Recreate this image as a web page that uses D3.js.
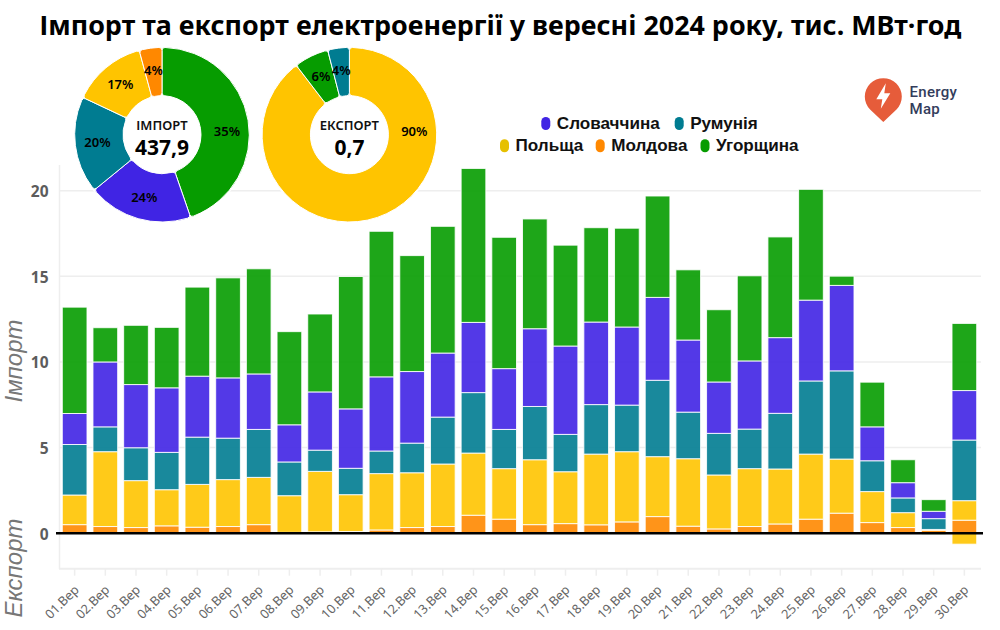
<!DOCTYPE html>
<html lang="uk">
<head>
<meta charset="utf-8">
<script src="https://cdn.jsdelivr.net/npm/d3@7"></script>
<style>
html,body{margin:0;padding:0;background:#fff}
svg{display:block}
</style>
</head>
<body>
<svg id="c" width="1000" height="630"></svg>
<script>
const titleText = "Імпорт та експорт електроенергії у вересні 2024 року, тис. МВт·год";
const days = ["01","02","03","04","05","06","07","08","09","10","11","12","13","14","15","16","17","18","19","20","21","22","23","24","25","26","27","28","29","30"].map(d => d + ".Вер");
const seriesNames = ["Молдова","Польща","Румунія","Словаччина","Угорщина"];
const moldova  = [.5,.39,.33,.43,.35,.39,.5,.05,.08,.1,.19,.33,.39,1.05,.82,.5,.56,.49,.66,.97,.41,.25,.39,.54,.82,1.17,.62,.33,.17,.76];
const poland   = [1.73,4.37,2.74,2.11,2.5,2.74,2.76,2.14,3.53,2.15,3.29,3.2,3.65,3.63,2.95,3.79,3.03,4.13,4.1,3.5,3.94,3.15,3.38,3.21,3.8,3.16,1.81,.87,.05,1.14];
const romania  = [2.95,1.45,1.92,2.18,2.76,2.42,2.8,1.97,1.24,1.54,1.32,1.73,2.74,3.53,2.29,3.11,2.18,2.89,2.72,4.46,2.72,2.43,2.31,3.25,4.27,5.15,1.8,.86,.63,3.54];
const slovakia = [1.81,3.79,3.69,3.77,3.56,3.52,3.24,2.17,3.4,3.47,4.33,4.18,3.74,4.1,3.55,4.54,5.16,4.82,4.56,4.84,4.21,3,3.98,4.42,4.72,4.99,1.98,.89,.43,2.89];
const hungary  = [6.21,2,3.46,3.53,5.2,5.84,6.14,5.44,4.55,7.73,8.5,6.77,7.4,8.99,7.67,6.41,5.89,5.51,5.77,5.92,4.1,4.22,4.97,5.88,6.47,.54,2.61,1.34,.68,3.92];
const exportPoland  = [0,0,0,0,0,0,0,0,0,0,0,0,0,0,0,0,0,0,0,0,0,0,0,0,0,0,0,0,0,-.64];
const exportHungary = [0,0,0,0,0,0,0,0,0,0,0,0,0,0,0,0,0,0,0,0,0,0,0,0,0,0,0,0,-.1,0];
const yTicks = [0,5,10,15,20];
const importSliceNames = ["Угорщина","Словаччина","Румунія","Польща","Молдова"];
const importSliceSizes = [44.7,19.4,17.9,13.8,4.2];
const importSliceLabels = ["35%","24%","20%","17%","4%"];
const exportSliceNames = ["Польща","Угорщина","Румунія"];
const exportSliceSizes = [89.6,6.4,4];
const exportSliceLabels = ["90%","6%","4%"];
const legendRow1 = ["Словаччина","Румунія"];
const legendRow2 = ["Польща","Молдова","Угорщина"];

const colors = {"Угорщина":"#069C00","Словаччина":"#4024E4","Румунія":"#007C91","Польща":"#FFC400","Молдова":"#FF8800"};
const FONT = "'Noto Sans', sans-serif";
const svg = d3.select("#c");

svg.append("text").attr("x",500.5).attr("y",34.5).attr("text-anchor","middle")
  .attr("font-family",FONT).attr("font-weight",700).attr("font-size",26.85).attr("fill","#000").text(titleText);

const x = d3.scaleBand().domain(days).range([59.3,979.7]).paddingInner(.195).paddingOuter(.0975);
const y = d3.scaleLinear().domain([0,20]).range([533.2,190.7]);

// grid
svg.append("g").selectAll("line").data(yTicks.slice(1)).join("line")
  .attr("x1",59).attr("x2",981).attr("y1",d=>y(d)).attr("y2",d=>y(d))
  .attr("stroke","#eeeeee").attr("stroke-width",1.5);

// axes
const axX = svg.append("g").attr("transform","translate(0,568.7)").call(d3.axisBottom(x).tickSize(7).tickSizeOuter(0));
axX.select(".domain").attr("stroke","#eeeeee").attr("stroke-width",2).attr("d","M59,0H981");
axX.selectAll(".tick line").attr("stroke","#eeeeee").attr("stroke-width",1.5);
axX.selectAll(".tick text").attr("font-family",FONT).attr("font-size",12.8).attr("fill","#666")
  .attr("text-anchor","end").attr("dy",0).attr("y",0)
  .attr("transform","translate(5,22) rotate(-45)");

const axY = svg.append("g").attr("transform","translate(59.5,0)").call(d3.axisLeft(y).tickValues(yTicks).tickFormat(d3.format("d")).tickSize(0).tickPadding(11));
axY.select(".domain").attr("stroke","#eeeeee").attr("stroke-width",1.5).attr("d","M0,165V569");
axY.selectAll(".tick text").attr("font-family",FONT).attr("font-weight",700).attr("font-size",15.5).attr("fill","#5c5c5c").attr("y",1);

// bars
const rows = days.map((d,i)=>({day:d,"Молдова":moldova[i],"Польща":poland[i],"Румунія":romania[i],"Словаччина":slovakia[i],"Угорщина":hungary[i]}));
const stackImp = d3.stack().keys(seriesNames)(rows);
const barsG = svg.append("g");
stackImp.forEach(s=>{
  barsG.append("g").selectAll("rect").data(s).join("rect")
    .attr("x",d=>x(d.data.day)).attr("width",x.bandwidth())
    .attr("y",d=>y(d[1])).attr("height",d=>Math.max(0,y(d[0])-y(d[1])))
    .attr("fill",colors[s.key]).attr("fill-opacity",.9)
    .attr("stroke","#fff").attr("stroke-opacity",.85).attr("stroke-width",1);
});
const expRows = days.map((d,i)=>({day:d,"Польща":exportPoland[i],"Угорщина":exportHungary[i]}));
const stackExp = d3.stack().keys(["Польща","Угорщина"]).offset(d3.stackOffsetDiverging)(expRows);
stackExp.forEach(s=>{
  barsG.append("g").selectAll("rect").data(s.filter(d=>d[0]!==d[1])).join("rect")
    .attr("x",d=>x(d.data.day)).attr("width",x.bandwidth())
    .attr("y",d=>y(Math.max(d[0],d[1]))).attr("height",d=>Math.abs(y(d[0])-y(d[1])))
    .attr("fill",colors[s.key]).attr("fill-opacity",s.key==="Угорщина"?.25:.9)
    .attr("stroke","#fff").attr("stroke-opacity",.85).attr("stroke-width",1);
});

// zero line
svg.append("line").attr("x1",56).attr("x2",983).attr("y1",y(0)).attr("y2",y(0)).attr("stroke","#000").attr("stroke-width",2.4);

// axis titles
[["Імпорт",361],["Експорт",568]].forEach(([t,cy])=>{
  svg.append("text").attr("transform",`translate(22,${cy}) rotate(-90)`).attr("text-anchor","middle")
    .attr("font-family","'Liberation Sans', sans-serif").attr("font-style","italic").attr("font-size",24).attr("fill","#777").text(t);
});

// donuts
function donut(cx,cy,names,sizes,labels,head,total){
  const R=87.3, r=39;
  const g=svg.append("g").attr("transform",`translate(${cx},${cy})`);
  g.append("circle").attr("r",R+1.5).attr("fill","#fff");
  const pie=d3.pie().sort(null)(sizes);
  const arc=d3.arc().innerRadius(r).outerRadius(R).cornerRadius(3);
  g.selectAll("path").data(pie).join("path").attr("d",arc)
    .attr("fill",(d,i)=>colors[names[i]]).attr("stroke","#fff").attr("stroke-width",1);
  const lr=65;
  g.selectAll("text.l").data(pie).join("text").attr("class","l")
    .attr("transform",(d,i)=>{
      const a = i===0 ? 87*Math.PI/180 : (d.startAngle+d.endAngle)/2;
      return `translate(${lr*Math.sin(a)},${-lr*Math.cos(a)})`;
    })
    .attr("text-anchor","middle").attr("dy","0.35em")
    .attr("font-family",FONT).attr("font-weight",600).attr("font-size",13).attr("fill","#000")
    .text((d,i)=>labels[i]);
  g.append("text").attr("y",-4.4).attr("text-anchor","middle").attr("font-family",FONT).attr("font-weight",600).attr("font-size",13).attr("fill","#111").text(head);
  g.append("text").attr("y",20).attr("text-anchor","middle").attr("font-family",FONT).attr("font-weight",700).attr("font-size",21).attr("fill","#000").text(total);
}
donut(162,134.7,importSliceNames,importSliceSizes,importSliceLabels,"ІМПОРТ","437,9");
donut(349.4,134.7,exportSliceNames,exportSliceSizes,exportSliceLabels,"ЕКСПОРТ","0,7");

// legend
function legend(items,markerXs,my,base){
  items.forEach((n,i)=>{
    svg.append("rect").attr("x",markerXs[i]).attr("y",my).attr("width",9).attr("height",13).attr("rx",4.5)
      .attr("fill",n==="Польща"?"#E6C000":colors[n]);
    svg.append("text").attr("x",markerXs[i]+15.5).attr("y",base)
      .attr("font-family","'Liberation Sans', Arial, sans-serif").attr("font-weight",700).attr("font-size",17.1).attr("fill","#111").text(n);
  });
}
legend(legendRow1,[541.3,674.7],117,129);
legend(legendRow2,[500,595.7,700.5],139.3,151.3);

// logo
const logo=svg.append("g").attr("transform","translate(883.3,96.7)");
logo.append("path").attr("d","M0,25.3 L-13.2,12.9 A18.5,18.5 0 1 1 13.2,12.9 Z").attr("fill","#E65C3A");
logo.append("path").attr("d","M2.5,-13.5 L-7,2.5 L-1,2.5 L-2.5,12 L7,-3.5 L1,-3.5 Z").attr("fill","#fff");
svg.append("text").attr("x",909.5).attr("y",96.5).attr("font-family","Roboto,sans-serif").attr("font-weight",500).attr("font-size",15).attr("letter-spacing",.3).attr("fill","#333d5c").text("Energy");
svg.append("text").attr("x",909.5).attr("y",114).attr("font-family","Roboto,sans-serif").attr("font-weight",500).attr("font-size",15).attr("letter-spacing",.3).attr("fill","#333d5c").text("Map");
</script>
</body>
</html>
